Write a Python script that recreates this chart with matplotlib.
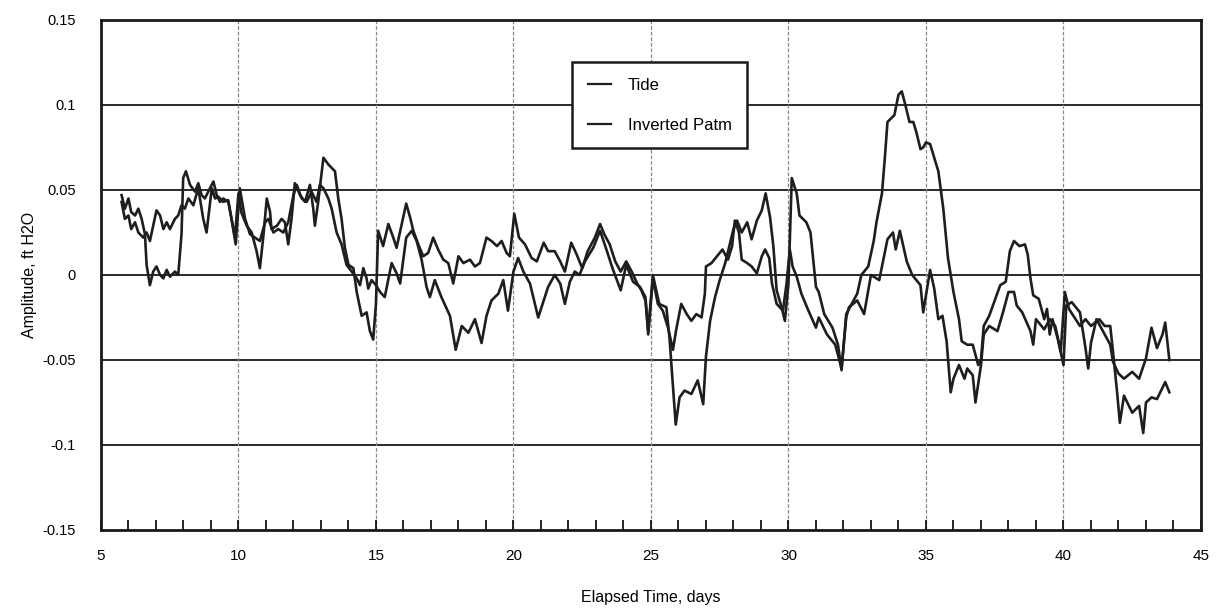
import matplotlib
matplotlib.use("Agg")
import matplotlib.pyplot as plt
from matplotlib.ticker import MultipleLocator

plt.rcParams['font.family'] = ['Liberation Sans', 'DejaVu Sans']

# Serie "Tide" (dias, amplitud en ft H2O)
tide_dias = [5.75, 5.87, 6.0, 6.1, 6.24, 6.36, 6.48, 6.6, 6.66, 6.78, 6.9, 7.02, 7.15, 7.27, 7.39,
             7.51, 7.69, 7.81, 7.93, 7.99, 8.09, 8.24, 8.42, 8.54, 8.66, 8.78, 8.9, 9.09, 9.21, 9.33,
             9.45, 9.63, 9.75, 9.87, 10.0, 10.1, 10.3, 10.48, 10.66, 10.78, 10.9, 11.03, 11.15, 11.2,
             11.4, 11.57, 11.69, 11.81, 11.93, 12.05, 12.24, 12.42, 12.6, 12.72, 12.78, 12.9, 13.09,
             13.27, 13.51, 13.63, 13.75, 13.87, 14.0, 14.18, 14.3, 14.48, 14.66, 14.78, 14.9, 15.0,
             15.08, 15.26, 15.45, 15.63, 15.75, 15.94, 16.1, 16.24, 16.36, 16.54, 16.72, 16.9, 17.08,
             17.26, 17.45, 17.63, 17.81, 18.0, 18.18, 18.42, 18.6, 18.78, 19.02, 19.2, 19.4, 19.57,
             19.75, 19.87, 20.03, 20.2, 20.42, 20.66, 20.85, 21.1, 21.26, 21.5, 21.7, 21.87, 22.1,
             22.3, 22.5, 22.7, 22.96, 23.15, 23.3, 23.5, 23.7, 23.9, 24.1, 24.3, 24.5, 24.65, 24.8,
             24.9, 25.07, 25.3, 25.56, 25.68, 25.74, 25.9, 26.04, 26.22, 26.47, 26.7, 26.9, 27.0,
             27.15, 27.33, 27.5, 27.7, 27.88, 28.0, 28.13, 28.3, 28.5, 28.66, 28.85, 29.03, 29.17,
             29.33, 29.45, 29.57, 29.75, 29.87, 30.0, 30.12, 30.3, 30.4, 30.65, 30.8, 30.9, 31.0,
             31.1, 31.3, 31.6, 31.8, 31.93, 32.1, 32.3, 32.5, 32.65, 32.9, 33.1, 33.2, 33.4, 33.5,
             33.6, 33.85, 34.0, 34.12, 34.25, 34.4, 34.54, 34.65, 34.8, 34.9, 35.0, 35.15, 35.45,
             35.63, 35.8, 36.0, 36.2, 36.3, 36.5, 36.7, 36.9, 37.0, 37.1, 37.3, 37.5, 37.7, 37.9,
             38.05, 38.2, 38.4, 38.6, 38.7, 38.8, 38.9, 39.1, 39.3, 39.4, 39.5, 39.6, 39.8, 40.0,
             40.1, 40.3, 40.6, 40.8, 40.9, 41.0, 41.2, 41.5, 41.7, 41.8, 42.0, 42.2, 42.5, 42.75,
             43.0, 43.2, 43.4, 43.6, 43.7, 43.8, 43.85]
tide_amp = [0.047, 0.039, 0.045, 0.037, 0.035, 0.039, 0.033, 0.024, 0.006, -0.006, 0.002, 0.005, 0.0,
            -0.002, 0.003, -0.001, 0.002, 0.0, 0.024, 0.057, 0.061, 0.053, 0.049, 0.054, 0.047, 0.045,
            0.049, 0.055, 0.047, 0.043, 0.045, 0.043, 0.033, 0.022, 0.048, 0.037, 0.029, 0.025, 0.014,
            0.004, 0.022, 0.045, 0.037, 0.027, 0.029, 0.033, 0.031, 0.018, 0.033, 0.054, 0.047, 0.043,
            0.053, 0.039, 0.029, 0.043, 0.069, 0.065, 0.061, 0.045, 0.033, 0.016, 0.006, 0.004, -0.01,
            -0.024, -0.022, -0.033, -0.038, -0.017, 0.026, 0.017, 0.03, 0.022, 0.016, 0.03, 0.042,
            0.034, 0.026, 0.018, 0.011, 0.013, 0.022, 0.015, 0.009, 0.007, -0.005, 0.011, 0.007,
            0.009, 0.005, 0.007, 0.022, 0.02, 0.017, 0.02, 0.013, 0.011, 0.036, 0.022, 0.018, 0.01,
            0.008, 0.019, 0.014, 0.014, 0.008, 0.002, 0.019, 0.012, 0.004, 0.014, 0.022, 0.03, 0.024,
            0.018, 0.008, 0.002, 0.008, 0.002, -0.005, -0.009, -0.015, -0.033, 0.0, -0.017, -0.019,
            -0.038, -0.052, -0.088, -0.072, -0.068, -0.07, -0.062, -0.076, -0.048, -0.027, -0.013,
            -0.003, 0.007, 0.019, 0.027, 0.032, 0.025, 0.031, 0.021, 0.032, 0.038, 0.048, 0.034,
            0.017, -0.009, -0.019, -0.027, -0.005, 0.057, 0.048, 0.035, 0.031, 0.025, 0.009, -0.007,
            -0.01, -0.023, -0.031, -0.041, -0.056, -0.023, -0.017, -0.011, 0.0, 0.005, 0.02, 0.031,
            0.048, 0.068, 0.09, 0.094, 0.106, 0.108, 0.1, 0.09, 0.09, 0.084, 0.074, 0.075, 0.078,
            0.077, 0.061, 0.039, 0.01, -0.01, -0.026, -0.039, -0.041, -0.041, -0.053, -0.05, -0.03,
            -0.024, -0.015, -0.006, -0.004, 0.014, 0.02, 0.017, 0.018, 0.012, -0.002, -0.012, -0.014,
            -0.026, -0.02, -0.035, -0.026, -0.038, -0.053, -0.018, -0.016, -0.022, -0.043, -0.055,
            -0.04, -0.026, -0.035, -0.041, -0.051, -0.058, -0.061, -0.057, -0.061, -0.049, -0.031,
            -0.043, -0.035, -0.028, -0.043, -0.05]

# Serie "Inverted Patm"
patm_dias = [5.75, 5.87, 6.0, 6.1, 6.24, 6.36, 6.54, 6.66, 6.78, 6.9, 7.02, 7.15, 7.27, 7.39, 7.51,
             7.69, 7.81, 7.93, 8.05, 8.18, 8.36, 8.54, 8.72, 8.84, 9.03, 9.15, 9.27, 9.45, 9.63, 9.81,
             9.9, 10.05, 10.24, 10.42, 10.6, 10.78, 10.97, 11.09, 11.27, 11.45, 11.63, 11.81, 12.0,
             12.12, 12.3, 12.48, 12.66, 12.84, 12.96, 13.09, 13.27, 13.39, 13.57, 13.75, 13.93, 14.12,
             14.3, 14.42, 14.54, 14.66, 14.72, 14.84, 15.0, 15.15, 15.32, 15.57, 15.75, 15.88, 16.1,
             16.3, 16.48, 16.66, 16.84, 16.96, 17.14, 17.38, 17.69, 17.9, 18.12, 18.36, 18.6, 18.84,
             19.02, 19.2, 19.45, 19.63, 19.8, 20.0, 20.17, 20.36, 20.6, 20.78, 20.9, 21.1, 21.26,
             21.5, 21.7, 21.87, 22.05, 22.23, 22.4, 22.6, 22.9, 23.15, 23.4, 23.6, 23.9, 24.1, 24.35,
             24.6, 24.8, 24.9, 25.07, 25.25, 25.43, 25.62, 25.8, 25.92, 26.1, 26.3, 26.47, 26.65,
             26.84, 26.96, 27.0, 27.2, 27.4, 27.6, 27.8, 27.95, 28.05, 28.2, 28.3, 28.5, 28.66, 28.85,
             29.03, 29.15, 29.3, 29.4, 29.57, 29.8, 29.93, 30.05, 30.15, 30.3, 30.47, 30.7, 31.0,
             31.1, 31.4, 31.7, 31.93, 32.1, 32.2, 32.5, 32.75, 33.0, 33.3, 33.6, 33.8, 33.9, 34.05,
             34.3, 34.5, 34.8, 34.9, 35.15, 35.3, 35.45, 35.6, 35.75, 35.9, 36.0, 36.2, 36.4, 36.5,
             36.7, 36.8, 37.0, 37.1, 37.3, 37.6, 37.8, 38.0, 38.2, 38.3, 38.5, 38.8, 38.9, 39.0, 39.3,
             39.5, 39.7, 39.9, 40.05, 40.2, 40.4, 40.6, 40.8, 41.0, 41.3, 41.5, 41.7, 41.8, 41.95,
             42.05, 42.2, 42.5, 42.75, 42.9, 43.0, 43.2, 43.4, 43.7, 43.85]
patm_amp = [0.043, 0.033, 0.035, 0.027, 0.031, 0.025, 0.022, 0.025, 0.02, 0.029, 0.038, 0.035, 0.027,
            0.031, 0.027, 0.033, 0.035, 0.041, 0.039, 0.045, 0.041, 0.051, 0.033, 0.025, 0.051, 0.045,
            0.046, 0.043, 0.044, 0.027, 0.018, 0.051, 0.033, 0.024, 0.022, 0.02, 0.031, 0.033, 0.025,
            0.027, 0.025, 0.031, 0.047, 0.053, 0.045, 0.043, 0.049, 0.043, 0.053, 0.051, 0.045, 0.039,
            0.025, 0.018, 0.006, 0.002, -0.002, -0.006, 0.004, -0.002, -0.008, -0.003, -0.006, -0.01,
            -0.013, 0.007, 0.001, -0.005, 0.022, 0.026, 0.02, 0.009, -0.007, -0.013, -0.003, -0.013,
            -0.024, -0.044, -0.03, -0.034, -0.026, -0.04, -0.024, -0.015, -0.011, -0.003, -0.021,
            0.002, 0.01, 0.002, -0.005, -0.017, -0.025, -0.015, -0.007, 0.0, -0.005, -0.017, -0.004,
            0.002, 0.0, 0.008, 0.016, 0.026, 0.014, 0.004, -0.009, 0.006, -0.004, -0.007, -0.013,
            -0.035, -0.002, -0.017, -0.021, -0.031, -0.044, -0.032, -0.017, -0.023, -0.027, -0.023,
            -0.025, -0.011, 0.005, 0.007, 0.011, 0.015, 0.009, 0.017, 0.032, 0.025, 0.009, 0.007,
            0.005, 0.001, 0.011, 0.015, 0.01, -0.005, -0.017, -0.021, -0.005, 0.015, 0.005, -0.001,
            -0.011, -0.02, -0.031, -0.025, -0.035, -0.041, -0.055, -0.025, -0.019, -0.015, -0.023,
            0.0, -0.003, 0.021, 0.025, 0.015, 0.026, 0.008, 0.0, -0.006, -0.022, 0.003, -0.008,
            -0.026, -0.024, -0.039, -0.069, -0.061, -0.053, -0.061, -0.055, -0.059, -0.075, -0.053,
            -0.035, -0.03, -0.033, -0.022, -0.01, -0.01, -0.018, -0.022, -0.033, -0.041, -0.026,
            -0.032, -0.026, -0.03, -0.045, -0.01, -0.02, -0.025, -0.03, -0.026, -0.03, -0.026, -0.03,
            -0.03, -0.045, -0.069, -0.087, -0.071, -0.081, -0.077, -0.093, -0.075, -0.072, -0.073,
            -0.063, -0.069]

xticks = [5, 10, 15, 20, 25, 30, 35, 40, 45]
yticks = [-0.15, -0.1, -0.05, 0, 0.05, 0.1, 0.15]
ytick_labels = ["-0.15", "-0.1", "-0.05", "0", "0.05", "0.1", "0.15"]

fig = plt.figure(figsize=(12.28, 6.11), dpi=100)
ax = fig.add_axes([0.0822, 0.1326, 0.8958, 0.8347])

ax.plot(tide_dias, tide_amp, color='#1e1e1e', lw=1.9, label="Tide", zorder=3)
ax.plot(patm_dias, patm_amp, color='#1e1e1e', lw=1.9, label="Inverted Patm", zorder=3)

ax.set_xlim(5, 45)
ax.set_ylim(-0.15, 0.15)
ax.set_xticks(xticks)
ax.set_yticks(yticks)
ax.set_yticklabels(ytick_labels)
ax.xaxis.set_minor_locator(MultipleLocator(1))

# rejilla: horizontales gruesas, verticales finas y punteadas
for y in yticks[1:-1]:
    ax.axhline(y, color='#2a2a2a', lw=1.4, zorder=1)
for x in xticks[1:-1]:
    ax.axvline(x, color='#8a8a8a', lw=0.9, ls=(0, (3, 1.5)), zorder=1)

ax.tick_params(axis='x', which='both', direction='in', length=7, width=1.2,
               labelsize=11, pad=14, top=False)
ax.tick_params(axis='y', length=0, labelsize=10.5, pad=18)
for s in ax.spines.values():
    s.set_linewidth(2)
    s.set_color('#1a1a1a')

ax.set_xlabel("Elapsed Time, days", fontsize=11.5, labelpad=19)
ax.set_ylabel("Amplitude, ft H2O", fontsize=11.5, labelpad=4)

leg = ax.legend(loc='upper left', bbox_to_anchor=(0.428, 0.918), fontsize=12,
                frameon=True, fancybox=False, framealpha=1, edgecolor='#1a1a1a',
                handlelength=1.4, labelspacing=1.5, borderpad=0.95, handletextpad=1.0,
                borderaxespad=0)
leg.get_frame().set_linewidth(1.8)
leg.set_zorder(5)
for h in leg.get_lines():
    h.set_linewidth(1.6)

fig.savefig("out.png", dpi=100)
